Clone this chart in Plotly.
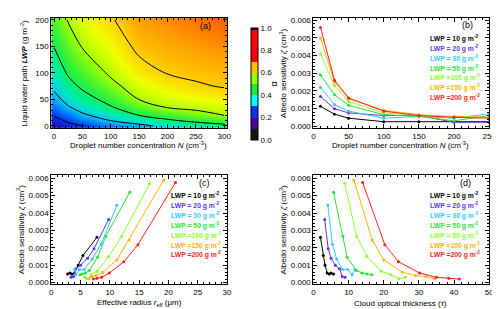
import plotly.graph_objects as go

# ---------------- data ----------------
# panel (a): albedo grid
N_grid = [0, 25, 50, 100, 150, 200, 250, 300]
LWP_grid = [0, 10, 20, 35, 50, 75, 100, 150, 200]
alpha_grid = [
    [0.150, 0.180, 0.200, 0.250, 0.280, 0.320, 0.350, 0.380],
    [0.178, 0.210, 0.243, 0.300, 0.341, 0.387, 0.420, 0.441],
    [0.205, 0.243, 0.287, 0.337, 0.400, 0.438, 0.470, 0.500],
    [0.240, 0.293, 0.329, 0.393, 0.452, 0.503, 0.517, 0.531],
    [0.274, 0.325, 0.366, 0.427, 0.501, 0.527, 0.544, 0.561],
    [0.316, 0.372, 0.414, 0.479, 0.536, 0.568, 0.591, 0.605],
    [0.345, 0.410, 0.444, 0.512, 0.570, 0.603, 0.615, 0.626],
    [0.402, 0.460, 0.504, 0.552, 0.618, 0.637, 0.653, 0.668],
    [0.450, 0.505, 0.540, 0.592, 0.650, 0.670, 0.690, 0.710],
]
contour_levels = [0.2, 0.3, 0.4, 0.5, 0.6]
cbar_ticks = [0.0, 0.2, 0.4, 0.6, 0.8, 1.0]
cbar_ticktext = ["0.0", "0.2", "0.4", "0.6", "0.8", "1.0"]

# panel (b): sensitivity vs N
N_b = [10, 30, 50, 100, 150, 200, 250]
zeta_b = {
    "10":  [0.00112, 0.00068, 0.00045, 0.00025, 0.00025, 0.00025, 0.00025],
    "20":  [0.00168, 0.00098, 0.00075, 0.00060, 0.00060, 0.00022, 0.00022],
    "30":  [0.00220, 0.00122, 0.00085, 0.00045, 0.00055, 0.00045, 0.00070],
    "50":  [0.00290, 0.00178, 0.00118, 0.00065, 0.00055, 0.00030, 0.00060],
    "100": [0.00410, 0.00230, 0.00140, 0.00075, 0.00060, 0.00050, 0.00050],
    "150": [0.00500, 0.00250, 0.00155, 0.00090, 0.00065, 0.00055, 0.00050],
    "200": [0.00560, 0.00260, 0.00160, 0.00085, 0.00060, 0.00050, 0.00045],
}

# panels (c) and (d): sensitivity vs r_eff and tau
zeta_cd = {
    "10":  [0.00260, 0.00155, 0.00100, 0.00055, 0.00050, 0.00055, 0.00050],
    "20":  [0.00362, 0.00195, 0.00140, 0.00100, 0.00080, 0.00035, 0.00030],
    "30":  [0.00445, 0.00220, 0.00135, 0.00075, 0.00075, 0.00045, 0.00075],
    "50":  [0.00520, 0.00265, 0.00145, 0.00070, 0.00055, 0.00050, 0.00045],
    "100": [0.00570, 0.00265, 0.00150, 0.00065, 0.00045, 0.00022, 0.00030],
    "150": [0.00590, 0.00245, 0.00130, 0.00060, 0.00040, 0.00035, 0.00022],
    "200": [0.00575, 0.00218, 0.00120, 0.00055, 0.00030, 0.00025, 0.00020],
}
reff_c = {
    "10":  [7.8, 5.4, 4.6, 4.0, 3.5, 3.2, 2.8],
    "20":  [9.8, 7.3, 6.2, 5.0, 4.2, 3.8, 3.4],
    "30":  [11.2, 8.5, 7.0, 5.6, 4.8, 4.2, 4.0],
    "50":  [13.4, 9.3, 7.9, 6.5, 5.8, 5.3, 4.9],
    "100": [16.8, 12.0, 9.8, 7.8, 6.8, 6.1, 5.7],
    "150": [19.2, 13.3, 11.2, 8.8, 7.6, 6.9, 6.4],
    "200": [21.2, 14.8, 12.4, 9.9, 8.6, 7.8, 7.2],
}
tau_d = {
    "10":  [2.0, 2.8, 3.3, 3.9, 4.5, 5.0, 5.7],
    "20":  [3.2, 4.2, 5.0, 6.2, 7.4, 8.2, 9.0],
    "30":  [4.1, 5.4, 6.6, 8.3, 9.8, 11.0, 11.8],
    "50":  [5.7, 8.4, 9.6, 12.2, 13.8, 15.2, 16.6],
    "100": [8.9, 12.3, 15.2, 19.3, 22.0, 24.3, 26.1],
    "150": [11.5, 16.7, 20.0, 25.3, 29.0, 32.0, 34.5],
    "200": [14.0, 20.3, 24.2, 30.2, 35.0, 38.5, 41.5],
}

series_keys = ["10", "20", "30", "50", "100", "150", "200"]
series_colors = ["#000000", "#5a32f0", "#32c8ff", "#1ee632", "#8cff28", "#ffb400", "#ff1e1e"]
legend_bc = ["LWP = 10 g m<sup>-2</sup>", "LWP = 20 g m<sup>-2</sup>", "LWP = 30 g m<sup>-2</sup>",
             "LWP = 50 g m<sup>-2</sup>", "LWP =100 g m<sup>-2</sup>", "LWP =150 g m<sup>-2</sup>",
             "LWP =200 g m<sup>-2</sup>"]
legend_d = ["LWP = 10 g m<sup>-2</sup>", "LWP = 20 g m<sup>-2</sup>", "LWP = 30 g m<sup>-2</sup>",
            "LWP = 50 g m<sup>-2</sup>", "LWP = 50 g m<sup>-2</sup>", "LWP =100 g m<sup>-2</sup>",
            "LWP =200 g m<sup>-2</sup>"]

# ---------------- figure ----------------
W, H = 500, 309
FONT = "Liberation Sans, Arial, sans-serif"

def px_x(p):
    return p / W

def px_y(p):
    return 1 - p / H

heat_scale = [
    [0.00, "#000000"], [0.10, "#400080"], [0.15, "#2010c0"], [0.20, "#0030f0"],
    [0.25, "#0080ff"], [0.30, "#00c8f0"], [0.34, "#00e8c0"], [0.38, "#00f080"],
    [0.42, "#28f040"], [0.46, "#60f820"], [0.50, "#a8ff00"], [0.55, "#f0ff00"],
    [0.60, "#ffd000"], [0.65, "#ffa000"], [0.70, "#ff6a00"], [0.80, "#ff2800"],
    [1.00, "#ff0000"],
]
step_cols = [(0.0, 0.1, "#101c10"), (0.1, 0.2, "#5000a0"), (0.2, 0.3, "#1030f0"),
             (0.3, 0.4, "#00ffff"), (0.4, 0.5, "#20e840"), (0.5, 0.6, "#90ff00"),
             (0.6, 0.7, "#ffc000"), (0.7, 0.985, "#ff0000"), (0.985, 1.0, "#000000")]
step_scale = []
for a, b, c in step_cols:
    step_scale.append([a, c])
    step_scale.append([b, c])

fig = go.Figure()

fig.add_trace(go.Heatmap(x=N_grid, y=LWP_grid, z=alpha_grid, zmin=0, zmax=1,
                         colorscale=heat_scale, zsmooth="best", showscale=False,
                         xaxis="x", yaxis="y", hoverinfo="skip"))
fig.add_trace(go.Contour(x=N_grid, y=LWP_grid, z=alpha_grid,
                         contours=dict(start=contour_levels[0], end=contour_levels[-1] + 0.01,
                                       size=0.1, coloring="lines"),
                         colorscale=[[0, "black"], [1, "black"]], showscale=False,
                         line=dict(width=1, smoothing=1.0),
                         xaxis="x", yaxis="y", hoverinfo="skip"))
# colorbar carrier
fig.add_trace(go.Scatter(x=[150, 150], y=[100, 100], mode="markers",
                         marker=dict(size=1, opacity=0, color=[0, 1], cmin=0, cmax=1,
                                     colorscale=step_scale, showscale=True,
                                     colorbar=dict(x=px_x(235), xanchor="left", thickness=7,
                                                   len=134 / H, lenmode="fraction",
                                                   y=px_y(75), yanchor="middle",
                                                   outlinewidth=1, outlinecolor="black",
                                                   tickvals=cbar_ticks, ticktext=cbar_ticktext,
                                                   ticks="", tickfont=dict(size=8, family=FONT),
                                                   title=dict(text="α", side="right",
                                                              font=dict(size=9, family=FONT)))),
                         xaxis="x", yaxis="y", showlegend=False, hoverinfo="skip"))

for k, col in zip(series_keys, series_colors):
    fig.add_trace(go.Scatter(x=N_b, y=zeta_b[k], mode="lines+markers",
                             line=dict(color=col, width=1), marker=dict(color=col, size=3),
                             xaxis="x2", yaxis="y2", showlegend=False))
    fig.add_trace(go.Scatter(x=reff_c[k], y=zeta_cd[k], mode="lines+markers",
                             line=dict(color=col, width=1), marker=dict(color=col, size=3),
                             xaxis="x3", yaxis="y3", showlegend=False))
    fig.add_trace(go.Scatter(x=tau_d[k], y=zeta_cd[k], mode="lines+markers",
                             line=dict(color=col, width=1), marker=dict(color=col, size=3),
                             xaxis="x4", yaxis="y4", showlegend=False))

LEFT = [px_x(42), px_x(221)]
RIGHT = [px_x(309), px_x(488)]
TOP = [px_y(120), px_y(8)]
BOT = [px_y(279), px_y(168)]

def axis(domain, rng, dtick, mdtick, anchor, tickformat=None):
    d = dict(domain=domain, range=rng, dtick=dtick, tick0=0, anchor=anchor,
             showline=True, linecolor="black", linewidth=1, mirror="allticks",
             ticks="inside", ticklen=4, tickwidth=1, tickcolor="black",
             showgrid=False, zeroline=False,
             tickfont=dict(size=8, family=FONT, color="black"),
             minor=dict(ticks="inside", ticklen=2, dtick=mdtick, tick0=0, tickcolor="black", showgrid=False))
    if tickformat:
        d["tickformat"] = tickformat
    return d

fig.update_layout(
    width=W, height=H, margin=dict(l=0, r=0, t=0, b=0),
    paper_bgcolor="white", plot_bgcolor="white", showlegend=False,
    font=dict(family=FONT, size=8, color="black"),
    xaxis=axis(LEFT, [-5, 305], 50, 10, "y"),
    yaxis=axis(TOP, [-4, 204], 50, 10, "x"),
    xaxis2=axis(RIGHT, [0, 250], 50, 10, "y2"),
    yaxis2=axis(TOP, [-0.00011, 0.00614], 0.001, 0.0002, "x2", ".3f"),
    xaxis3=axis(LEFT, [0, 30], 5, 1, "y3"),
    yaxis3=axis(BOT, [-0.00011, 0.00617], 0.001, 0.0002, "x3", ".3f"),
    xaxis4=axis(RIGHT, [0, 50], 10, 2, "y4"),
    yaxis4=axis(BOT, [-0.00011, 0.00617], 0.001, 0.0002, "x4", ".3f"),
)

ann = []
TF = dict(size=8, family=FONT, color="black")
def add_text(x, y, text, angle=0, font=TF, xanchor="center"):
    ann.append(dict(x=px_x(x), y=px_y(y), xref="paper", yref="paper", text=text,
                    showarrow=False, textangle=angle, font=font, xanchor=xanchor, yanchor="middle"))

xt_N = "Droplet number concentration <i>N</i> (cm<sup>-3</sup>)"
add_text(131, 137, xt_N)
add_text(398, 137, xt_N)
add_text(132, 298, "Effective radius <i>r</i><sub>eff</sub> (μm)")
add_text(398, 298, "Cloud optical thickness (τ)")
add_text(14, 64, "Liquid water path <b><i>LWP</i></b> (g m<sup>-2</sup>)", angle=-90)
zt = "Albedo sensitivity <i>ζ</i> (cm<sup>3</sup>)"
add_text(278, 64, zt, angle=-90)
add_text(11, 223, zt, angle=-90)
add_text(278, 223, zt, angle=-90)

PF = dict(size=9, family=FONT, color="black")
add_text(199, 16, "(a)", font=PF)
add_text(466, 15, "(b)", font=PF)
add_text(198, 176, "(c)", font=PF)
add_text(464, 176, "(d)", font=PF)

for i, col in enumerate(series_colors):
    LF = dict(size=6.8, family=FONT, color=col, weight="bold")
    add_text(426, 29 + 10 * i, legend_bc[i], font=LF, xanchor="left")
    add_text(162, 189 + 10 * i, legend_bc[i], font=LF, xanchor="left")
    add_text(426, 189 + 10 * i, legend_d[i], font=LF, xanchor="left")

fig.update_layout(annotations=ann)
fig.write_html("out.html")
